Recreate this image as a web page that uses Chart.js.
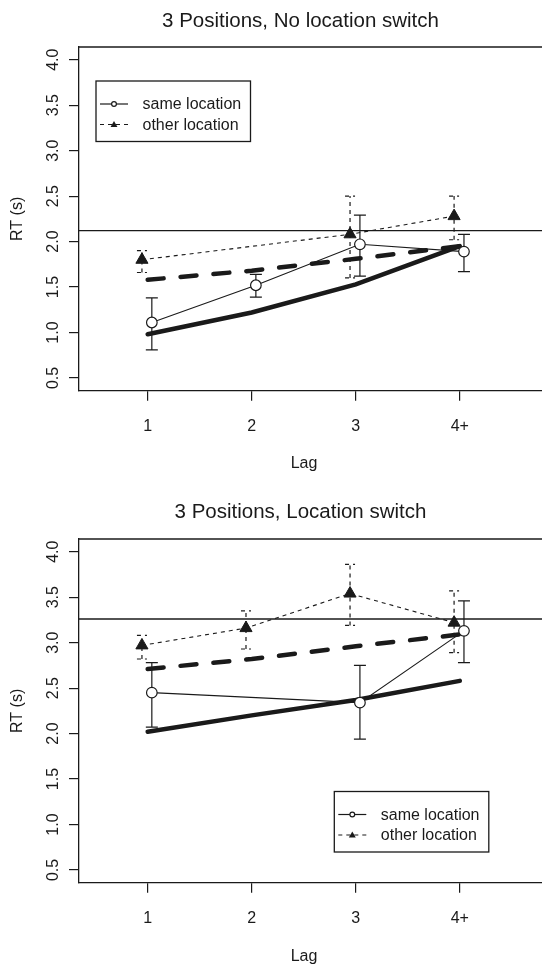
<!DOCTYPE html>
<html>
<head>
<meta charset="utf-8">
<script src="https://cdn.jsdelivr.net/npm/chart.js@4.4.0/dist/chart.umd.min.js"></script>
<style>
    html, body { margin: 0; padding: 0; background: #fff; overflow: hidden; }
    canvas { display: block; }
</style>
</head>
<body>
<canvas id="panel1" width="542" height="483"></canvas>
<canvas id="panel2" width="542" height="483"></canvas>
<script>
// Data
const lags = [1, 2, 3, 4];
const lagLabels = ['1', '2', '3', '4+'];
const yTicks = [0.5, 1.0, 1.5, 2.0, 2.5, 3.0, 3.5, 4.0];
const legendLabels = ['same location', 'other location'];

// Panel 1: no location switch
const p1SameObs = [1.11, 1.52, 1.97, 1.89];
const p1SameLo = [0.81, 1.39, 1.62, 1.67];
const p1SameHi = [1.38, 1.64, 2.29, 2.08];
const p1OtherObs = [1.80, null, 2.08, 2.28];
const p1OtherLo = [1.66, null, 1.60, 2.02];
const p1OtherHi = [1.90, null, 2.50, 2.50];
const p1SameFit = [0.98, 1.22, 1.53, 1.95];
const p1OtherFit = [1.58, 1.68, 1.81, 1.95];
const p1Baseline = 2.12;

// Panel 2: location switch
const p2SameObs = [2.45, null, 2.34, 3.13];
const p2SameLo = [2.07, null, 1.94, 2.78];
const p2SameHi = [2.78, null, 2.75, 3.46];
const p2OtherObs = [2.97, 3.16, 3.54, 3.22];
const p2OtherLo = [2.82, 2.93, 3.19, 2.89];
const p2OtherHi = [3.08, 3.35, 3.86, 3.57];
const p2SameFit = [2.02, 2.20, 2.37, 2.58];
const p2OtherFit = [2.71, 2.82, 2.96, 3.09];
const p2Baseline = 3.26;

const INK = '#1a1a1a';
const FONT = '"Liberation Sans", Arial, Helvetica, sans-serif';
const SAME_SHIFT = 0.04;    // observed points are drawn slightly apart
const OTHER_SHIFT = -0.055;

function toPoints(values, shift) {
    return values.map((v, i) => ({ x: lags[i] + shift, y: v }));
}

function drawTriangle(ctx, x, y, r) {
    ctx.beginPath();
    ctx.moveTo(x, y - r);
    ctx.lineTo(x + r * 0.866, y + r * 0.5);
    ctx.lineTo(x - r * 0.866, y + r * 0.5);
    ctx.closePath();
    ctx.fill();
}

const rPanelPlugin = {
    id: 'rPanel',
    beforeDatasetsDraw(chart) {
        const p = chart.options.plugins.rPanel;
        const { ctx, chartArea } = chart;
        const xs = chart.scales.x, ys = chart.scales.y;
        ctx.save();
        ctx.strokeStyle = INK;
        // reference line
        const by = ys.getPixelForValue(p.baseline);
        ctx.lineWidth = 1.3;
        ctx.beginPath();
        ctx.moveTo(chartArea.left, by);
        ctx.lineTo(chartArea.right, by);
        ctx.stroke();

        // error bars
        const bars = [
            { lo: p.sameLo, hi: p.sameHi, shift: SAME_SHIFT, dash: [], cap: 6 },
            { lo: p.otherLo, hi: p.otherHi, shift: OTHER_SHIFT, dash: [4, 4], cap: 5 }
        ];
        ctx.lineWidth = 1.2;
        bars.forEach(b => {
            ctx.setLineDash(b.dash);
            b.lo.forEach((lo, i) => {
                if (lo === null) return;
                const x = xs.getPixelForValue(lags[i] + b.shift);
                const y1 = ys.getPixelForValue(lo);
                const y2 = ys.getPixelForValue(b.hi[i]);
                ctx.beginPath();
                ctx.moveTo(x, y1);
                ctx.lineTo(x, y2);
                ctx.moveTo(x - b.cap, y1);
                ctx.lineTo(x + b.cap, y1);
                ctx.moveTo(x - b.cap, y2);
                ctx.lineTo(x + b.cap, y2);
                ctx.stroke();
            });
        });
        ctx.restore();
    },
    afterDraw(chart) {
        const p = chart.options.plugins.rPanel;
        const { ctx, chartArea } = chart;
        const ys = chart.scales.y;
        ctx.save();
        ctx.strokeStyle = INK;
        ctx.fillStyle = INK;

        // top of the box
        ctx.lineWidth = 1.3;
        ctx.beginPath();
        ctx.moveTo(chartArea.left, chartArea.top);
        ctx.lineTo(chartArea.right, chartArea.top);
        ctx.stroke();

        // title and x axis title, centred on R's plot region
        ctx.font = `20.5px ${FONT}`;
        ctx.textAlign = 'center';
        ctx.textBaseline = 'middle';
        ctx.fillText(p.title, 300.5, p.titleY);
        ctx.font = `16px ${FONT}`;
        ctx.fillText('Lag', 304, p.lagY);

        // rotated y tick labels
        yTicks.forEach(v => {
            const y = ys.getPixelForValue(v);
            ctx.save();
            ctx.translate(chartArea.left - 25, y);
            ctx.rotate(-Math.PI / 2);
            ctx.fillText(v.toFixed(1), 0, 0);
            ctx.restore();
        });

        // legend box
        const lx = chartArea.left + p.legend.dx;
        const ly = p.legend.fromBottom ? chartArea.bottom - p.legend.dy - 60.5 : chartArea.top + p.legend.dy;
        ctx.lineWidth = 1.3;
        ctx.strokeRect(lx, ly, 154.5, 60.5);
        ctx.textAlign = 'left';
        const rows = [ly + 23, ly + 43.5];
        // same location row
        ctx.lineWidth = 1.2;
        ctx.beginPath();
        ctx.moveTo(lx + 4, rows[0]);
        ctx.lineTo(lx + 32, rows[0]);
        ctx.stroke();
        ctx.fillStyle = '#fff';
        ctx.beginPath();
        ctx.arc(lx + 18, rows[0], 2.4, 0, Math.PI * 2);
        ctx.fill();
        ctx.stroke();
        ctx.fillStyle = INK;
        // other location row
        ctx.setLineDash([4, 4]);
        ctx.beginPath();
        ctx.moveTo(lx + 4, rows[1]);
        ctx.lineTo(lx + 32, rows[1]);
        ctx.stroke();
        ctx.setLineDash([]);
        drawTriangle(ctx, lx + 18, rows[1] + 0.5, 4);
        ctx.fillText(legendLabels[0], lx + 46.5, rows[0] + 1);
        ctx.fillText(legendLabels[1], lx + 46.5, rows[1] + 1);
        ctx.restore();
    }
};

function axisStyle() {
    return {
        drawOnChartArea: false,
        drawTicks: true,
        tickLength: 10,
        color: INK,
        lineWidth: 1.2
    };
}

function makePanel(canvasId, panel) {
    return new Chart(document.getElementById(canvasId), {
        type: 'line',
        data: {
            datasets: [
                {
                    label: 'same location fit',
                    data: toPoints(panel.sameFit, 0),
                    borderColor: INK,
                    borderWidth: 4.5,
                    borderCapStyle: 'round',
                    pointRadius: 0,
                    order: 4
                },
                {
                    label: 'other location fit',
                    data: toPoints(panel.otherFit, 0),
                    borderColor: INK,
                    borderWidth: 4.5,
                    borderDash: [16, 17],
                    borderCapStyle: 'round',
                    pointRadius: 0,
                    order: 3
                },
                {
                    label: legendLabels[1],
                    data: toPoints(panel.otherObs, OTHER_SHIFT),
                    borderColor: INK,
                    borderWidth: 1.1,
                    borderDash: [4, 4],
                    spanGaps: true,
                    pointStyle: 'triangle',
                    pointRadius: 7,
                    pointBackgroundColor: INK,
                    pointBorderColor: INK,
                    pointBorderWidth: 1,
                    order: 2
                },
                {
                    label: legendLabels[0],
                    data: toPoints(panel.sameObs, SAME_SHIFT),
                    borderColor: INK,
                    borderWidth: 1.1,
                    spanGaps: true,
                    pointStyle: 'circle',
                    pointRadius: 5.3,
                    pointBackgroundColor: '#fff',
                    pointBorderColor: INK,
                    pointBorderWidth: 1.2,
                    order: 1
                }
            ]
        },
        options: {
            responsive: false,
            animation: false,
            layout: {
                autoPadding: false,
                padding: { top: panel.topPad, left: 0, right: 0, bottom: 0 }
            },
            plugins: {
                legend: { display: false },
                tooltip: { enabled: false },
                title: { display: false },
                rPanel: {
                    title: panel.title,
                    titleY: panel.titleY,
                    lagY: panel.lagY,
                    baseline: panel.baseline,
                    sameLo: panel.sameLo,
                    sameHi: panel.sameHi,
                    otherLo: panel.otherLo,
                    otherHi: panel.otherHi,
                    legend: panel.legend
                }
            },
            scales: {
                x: {
                    type: 'linear',
                    min: 0.34,
                    max: 4.79,
                    afterBuildTicks: s => { s.ticks = lags.map(v => ({ value: v })); },
                    afterFit: s => {
                        s.height = panel.xAxisHeight;
                        s.paddingLeft = 0;
                        s.paddingRight = 0;
                    },
                    ticks: {
                        callback: (v, i) => lagLabels[i],
                        color: INK,
                        font: { family: FONT, size: 16 },
                        padding: 16,
                        maxRotation: 0,
                        autoSkip: false
                    },
                    grid: axisStyle(),
                    border: { display: true, color: INK, width: 1.3 },
                    title: { display: false }
                },
                y: {
                    type: 'linear',
                    min: 0.36,
                    max: 4.14,
                    afterBuildTicks: s => { s.ticks = yTicks.map(v => ({ value: v })); },
                    afterFit: s => {
                        s.width = 79;
                        s.paddingTop = 0;
                        s.paddingBottom = 0;
                    },
                    ticks: { display: false },
                    grid: axisStyle(),
                    border: { display: true, color: INK, width: 1.3 },
                    title: {
                        display: true,
                        text: 'RT (s)',
                        color: INK,
                        font: { family: FONT, size: 16 },
                        padding: { top: 8.4, bottom: 0 }
                    }
                }
            }
        },
        plugins: [rPanelPlugin]
    });
}

makePanel('panel1', {
    title: '3 Positions, No location switch',
    titleY: 21,
    lagY: 463.5,
    topPad: 47,
    xAxisHeight: 92.3,
    baseline: p1Baseline,
    sameObs: p1SameObs, sameLo: p1SameLo, sameHi: p1SameHi,
    otherObs: p1OtherObs, otherLo: p1OtherLo, otherHi: p1OtherHi,
    sameFit: p1SameFit, otherFit: p1OtherFit,
    legend: { dx: 17, dy: 34, fromBottom: false }
});

makePanel('panel2', {
    title: '3 Positions, Location switch',
    titleY: 29,
    lagY: 474,
    topPad: 56,
    xAxisHeight: 83.3,
    baseline: p2Baseline,
    sameObs: p2SameObs, sameLo: p2SameLo, sameHi: p2SameHi,
    otherObs: p2OtherObs, otherLo: p2OtherLo, otherHi: p2OtherHi,
    sameFit: p2SameFit, otherFit: p2OtherFit,
    legend: { dx: 255.3, dy: 30.7, fromBottom: true }
});
</script>
</body>
</html>
